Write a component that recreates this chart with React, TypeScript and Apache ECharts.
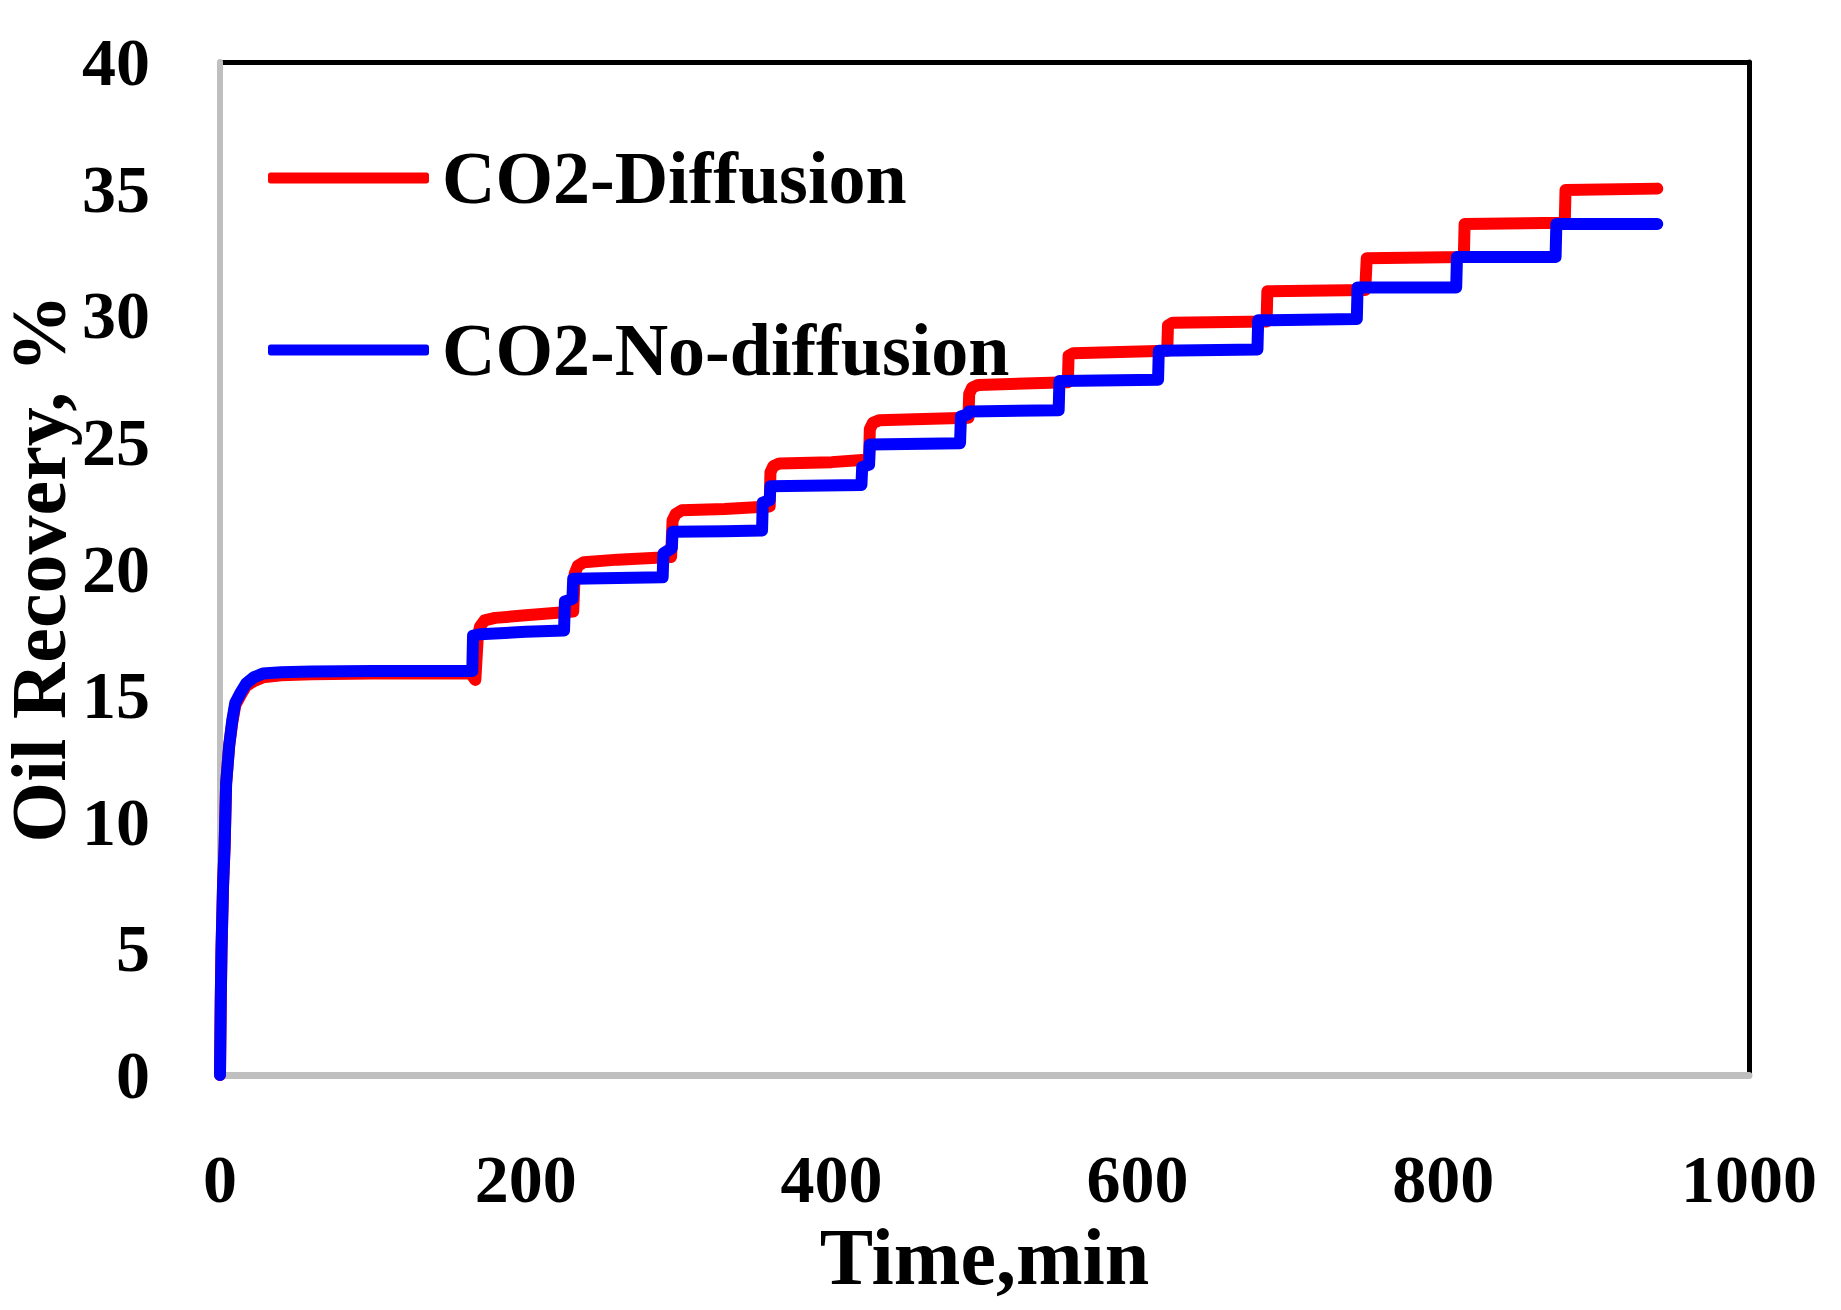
import React, { useEffect, useRef } from "react";
import * as echarts from "echarts";

const xTicks = [0, 200, 400, 600, 800, 1000];
const yTicks = [0, 5, 10, 15, 20, 25, 30, 35, 40];

const seriesNames = ["CO2-Diffusion", "CO2-No-diffusion"];

const diffusionTime = [
  0, 0.5, 1, 2, 3, 4, 6, 8, 10, 13.5, 17, 22, 28, 40, 60, 100, 164, 167,
  168.5, 170, 173, 180, 200, 231,
  232, 234, 238, 260, 295,
  296, 298, 302, 330, 359.5,
  360, 362, 366, 400, 424.5,
  425, 427, 431, 489.5,
  490, 492, 496, 554.5,
  555, 558, 619.5,
  620, 623, 684.5,
  685, 749,
  750, 813.5,
  814, 879.5,
  880, 940,
];
const diffusionRecovery = [
  0, 3, 5, 7.5, 9, 11.5, 13, 13.9, 14.6, 15.0, 15.35, 15.55, 15.7, 15.78, 15.82, 15.85, 15.85, 15.6,
  17.2, 17.7, 17.95, 18.05, 18.15, 18.3,
  19.8, 20.1, 20.25, 20.35, 20.45,
  21.9, 22.15, 22.3, 22.35, 22.45,
  23.8, 24.05, 24.15, 24.2, 24.3,
  25.5, 25.75, 25.85, 25.95,
  26.9, 27.15, 27.25, 27.35,
  28.4, 28.5, 28.6,
  29.6, 29.7, 29.75,
  30.95, 31.0,
  32.25, 32.3,
  33.6, 33.65,
  34.95, 35.0,
];

const noDiffusionTime = [
  0, 0.5, 1, 2, 3, 4, 6, 8, 10, 13.5, 17, 22, 28, 40, 60, 100, 165,
  165.5, 170, 200, 225,
  225.6, 230.5, 231, 260, 289.5,
  290, 295.5, 296, 330, 354.5,
  355, 359.5, 360, 419.5,
  420, 424.5, 425, 484,
  484.6, 489.5, 490, 548.5,
  549, 613.5,
  614, 678.5,
  679, 743.5,
  744, 808.5,
  809, 873.5,
  874, 940,
];
const noDiffusionRecovery = [
  0, 3, 5, 7.5, 9, 11.5, 13, 14, 14.7, 15.1, 15.45, 15.7, 15.85, 15.9, 15.93, 15.95, 15.95,
  17.35, 17.4, 17.5, 17.55,
  18.7, 18.8, 19.6, 19.62, 19.65,
  20.6, 20.8, 21.45, 21.47, 21.5,
  22.6, 22.7, 23.25, 23.3,
  24.0, 24.1, 24.9, 24.95,
  26.0, 26.1, 26.2, 26.25,
  27.4, 27.45,
  28.6, 28.65,
  29.8, 29.85,
  31.1, 31.1,
  32.3, 32.3,
  33.6, 33.6,
];

const FONT = "'Liberation Serif', 'DejaVu Serif', serif";

export default function App() {
  const ref = useRef<HTMLDivElement>(null);
  useEffect(() => {
    if (!ref.current) return;
    const chart = echarts.init(ref.current, undefined, { renderer: "svg" });
    const zip = (xs: number[], ys: number[]) => xs.map((x, i) => [x, ys[i]]);
    chart.setOption({
      animation: false,
      backgroundColor: "#ffffff",
      grid: {
        left: 220,
        right: 92,
        top: 62,
        bottom: 235,
        containLabel: false,
        outerBoundsMode: "none",
      },
      legend: {
        orient: "vertical",
        left: 263,
        top: 133,
        itemWidth: 161,
        itemHeight: 11,
        itemGap: 92,
        icon: "roundRect",
        data: seriesNames,
        textStyle: {
          fontFamily: FONT,
          fontWeight: "bold",
          fontSize: 74,
          lineHeight: 80,
          color: "#000",
          padding: [0, 0, 0, 8],
        },
      },
      xAxis: [
        {
          type: "value",
          min: 0,
          max: 1000,
          interval: 200,
          name: "Time,min",
          nameLocation: "middle",
          nameGap: 142,
          nameMoveOverlap: false,
          nameTextStyle: { fontFamily: FONT, fontWeight: "bold", fontSize: 80, color: "#000" },
          axisLine: { show: true, onZero: false, lineStyle: { color: "#bfbfbf", width: 7 } },
          axisTick: { show: false },
          splitLine: { show: false },
          axisLabel: {
            margin: 70,
            fontFamily: FONT,
            fontWeight: "bold",
            fontSize: 68,
            color: "#000",
            customValues: xTicks,
            formatter: (v: number) => String(v),
          },
          z: 3,
        },
        {
          type: "value",
          position: "top",
          min: 0,
          max: 1000,
          interval: 200,
          axisLine: { show: true, onZero: false, lineStyle: { color: "#000", width: 5 } },
          axisTick: { show: false },
          axisLabel: { show: false },
          splitLine: { show: false },
        },
      ],
      yAxis: [
        {
          type: "value",
          min: 0,
          max: 40,
          interval: 5,
          name: "Oil Recovery, %",
          nameLocation: "middle",
          nameGap: 143,
          nameMoveOverlap: false,
          nameTextStyle: {
            fontFamily: FONT,
            fontWeight: "bold",
            fontSize: 78,
            color: "#000",
          },
          axisLine: { show: true, onZero: false, lineStyle: { color: "#bfbfbf", width: 6 } },
          axisTick: { show: false },
          splitLine: { show: false },
          axisLabel: {
            margin: 70,
            fontFamily: FONT,
            fontWeight: "bold",
            fontSize: 68,
            color: "#000",
            customValues: yTicks,
            formatter: (v: number) => String(v),
          },
          z: 3,
        },
        {
          type: "value",
          position: "right",
          min: 0,
          max: 40,
          interval: 5,
          axisLine: { show: true, onZero: false, lineStyle: { color: "#000", width: 5 } },
          axisTick: { show: false },
          axisLabel: { show: false },
          splitLine: { show: false },
        },
      ],
      series: [
        {
          name: seriesNames[0],
          type: "line",
          xAxisIndex: 0,
          yAxisIndex: 0,
          data: zip(diffusionTime, diffusionRecovery),
          showSymbol: false,
          symbol: "none",
          itemStyle: { color: "#ff0000" },
          lineStyle: { color: "#ff0000", width: 12, cap: "round", join: "round" },
          z: 4,
        },
        {
          name: seriesNames[1],
          type: "line",
          xAxisIndex: 0,
          yAxisIndex: 0,
          data: zip(noDiffusionTime, noDiffusionRecovery),
          showSymbol: false,
          symbol: "none",
          itemStyle: { color: "#0000ff" },
          lineStyle: { color: "#0000ff", width: 12, cap: "round", join: "round" },
          z: 5,
        },
      ],
    });
    return () => chart.dispose();
  }, []);
  return (
    <div
      ref={ref}
      style={{ position: "absolute", left: 0, top: 0, width: 1841, height: 1310, background: "#fff" }}
    />
  );
}
